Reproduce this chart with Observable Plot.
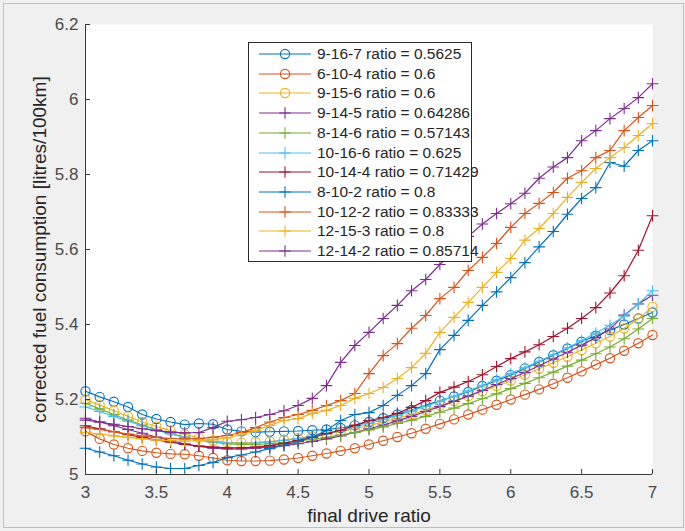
<!DOCTYPE html>
<html><head><meta charset="utf-8">
<script src="https://cdn.jsdelivr.net/npm/d3@7"></script>
<script src="https://cdn.jsdelivr.net/npm/@observablehq/plot@0.6"></script>
<style>
html,body{margin:0;padding:0;background:#f0f0f0;}
#wrap{position:relative;width:685px;height:531px;overflow:hidden;font-family:"Liberation Sans",Arial,Helvetica,sans-serif;background:#f0f0f0;}
#chart{position:absolute;left:0;top:0;}
#border{position:absolute;left:3px;top:3px;width:679px;height:523px;border:1px solid #9cc9e3;pointer-events:none;}
#legend{position:absolute;left:248px;top:42px;width:224px;height:220px;background:#fff;border:1px solid #2b2b2b;box-sizing:border-box;}
.lrow{position:absolute;left:0;height:18px;width:222px;}
.lrow svg{position:absolute;left:0;top:0;}
.lrow span{position:absolute;left:68px;top:0;line-height:18px;font-size:15.5px;color:#262626;white-space:nowrap;}
</style></head><body>
<div id="wrap"><div id="chart"></div><div id="legend"></div><div id="border"></div></div>
<script>
const xValues = [3.0,3.1,3.2,3.3,3.4,3.5,3.6,3.7,3.8,3.9,4.0,4.1,4.2,4.3,4.4,4.5,4.6,4.7,4.8,4.9,5.0,5.1,5.2,5.3,5.4,5.5,5.6,5.7,5.8,5.9,6.0,6.1,6.2,6.3,6.4,6.5,6.6,6.7,6.8,6.9,7.0];

const seriesNames = [
  "9-16-7 ratio = 0.5625",
  "6-10-4 ratio = 0.6",
  "9-15-6 ratio = 0.6",
  "9-14-5 ratio = 0.64286",
  "8-14-6 ratio = 0.57143",
  "10-16-6 ratio = 0.625",
  "10-14-4 ratio = 0.71429",
  "8-10-2 ratio = 0.8",
  "10-12-2 ratio = 0.83333",
  "12-15-3 ratio = 0.8",
  "12-14-2 ratio = 0.85714"
];

const s_9_16_7 = [5.222,5.207,5.194,5.180,5.160,5.148,5.140,5.133,5.136,5.134, 5.120,5.115,5.113,5.114,5.115,5.116,5.118,5.120,5.124,5.131, 5.140,5.150,5.160,5.172,5.185,5.197,5.208,5.220,5.236,5.250, 5.265,5.283,5.300,5.318,5.336,5.354,5.370,5.385,5.400,5.416, 5.432];
const s_6_10_4 = [5.115,5.095,5.080,5.070,5.063,5.058,5.055,5.054,5.050,5.044, 5.038,5.036,5.036,5.037,5.040,5.044,5.050,5.056,5.063,5.070, 5.080,5.090,5.100,5.110,5.122,5.135,5.147,5.160,5.173,5.186, 5.200,5.213,5.227,5.242,5.258,5.275,5.293,5.310,5.330,5.350, 5.372];
const s_9_15_6 = [5.200,5.185,5.170,5.155,5.140,5.128,5.117,5.107,5.098,5.090, 5.086,5.085,5.086,5.088,5.092,5.097,5.102,5.108,5.115,5.122, 5.130,5.140,5.150,5.160,5.172,5.184,5.196,5.209,5.222,5.236, 5.250,5.266,5.282,5.298,5.314,5.332,5.350,5.368,5.390,5.415, 5.447];
const s_9_14_5 = [5.150,5.140,5.130,5.120,5.110,5.100,5.090,5.082,5.075,5.070, 5.068,5.068,5.070,5.073,5.077,5.082,5.088,5.095,5.103,5.112, 5.122,5.132,5.143,5.155,5.168,5.181,5.195,5.209,5.224,5.240, 5.256,5.272,5.290,5.308,5.326,5.345,5.365,5.388,5.425,5.455, 5.478];
const s_8_14_6 = [5.190,5.175,5.160,5.145,5.132,5.120,5.110,5.100,5.092,5.086, 5.082,5.080,5.080,5.082,5.085,5.089,5.094,5.099,5.105,5.112, 5.119,5.127,5.136,5.145,5.155,5.166,5.177,5.189,5.202,5.215, 5.229,5.243,5.258,5.273,5.289,5.305,5.322,5.340,5.362,5.388, 5.416];
const s_10_16_6 = [5.180,5.168,5.155,5.142,5.130,5.118,5.108,5.099,5.092,5.087, 5.084,5.083,5.084,5.087,5.091,5.096,5.102,5.109,5.117,5.126, 5.136,5.146,5.157,5.169,5.182,5.195,5.209,5.223,5.238,5.253, 5.269,5.285,5.302,5.320,5.338,5.357,5.377,5.398,5.422,5.455, 5.490];
const s_10_14_4 = [5.130,5.122,5.114,5.106,5.099,5.092,5.086,5.080,5.076,5.073, 5.071,5.071,5.073,5.077,5.083,5.091,5.099,5.109,5.118,5.131, 5.144,5.152,5.163,5.179,5.197,5.219,5.233,5.248,5.266,5.288, 5.309,5.327,5.346,5.368,5.390,5.416,5.445,5.484,5.530,5.598, 5.690];
const s_8_10_2 = [5.070,5.060,5.050,5.038,5.028,5.020,5.016,5.016,5.024,5.032, 5.045,5.052,5.060,5.069,5.078,5.088,5.100,5.117,5.144,5.160, 5.165,5.184,5.211,5.237,5.269,5.333,5.371,5.411,5.451,5.487, 5.525,5.565,5.607,5.648,5.694,5.736,5.765,5.832,5.822,5.864, 5.890];
const s_10_12_2 = [5.125,5.120,5.114,5.108,5.103,5.099,5.096,5.095,5.096,5.099, 5.104,5.112,5.125,5.140,5.152,5.160,5.171,5.184,5.197,5.216, 5.269,5.317,5.349,5.390,5.424,5.469,5.499,5.544,5.579,5.616, 5.659,5.696,5.723,5.752,5.790,5.810,5.845,5.864,5.917,5.952, 5.984];
const s_12_15_3 = [5.112,5.108,5.103,5.099,5.095,5.092,5.090,5.089,5.090,5.093, 5.098,5.106,5.117,5.131,5.144,5.149,5.163,5.171,5.184,5.203, 5.216,5.232,5.256,5.285,5.323,5.379,5.419,5.459,5.499,5.539, 5.576,5.625,5.656,5.696,5.739,5.779,5.816,5.845,5.872,5.904, 5.936];
const s_12_14_2 = [5.145,5.140,5.134,5.128,5.122,5.117,5.113,5.111,5.112,5.125, 5.142,5.146,5.152,5.160,5.170,5.184,5.203,5.237,5.299,5.344, 5.379,5.416,5.451,5.490,5.520,5.560,5.598,5.635,5.668,5.696, 5.722,5.750,5.790,5.820,5.845,5.890,5.917,5.949,5.976,6.005, 6.042];

const seriesValues = [s_9_16_7, s_6_10_4, s_9_15_6, s_9_14_5, s_8_14_6, s_10_16_6, s_10_14_4, s_8_10_2, s_10_12_2, s_12_15_3, s_12_14_2];

const xTicks = [3, 3.5, 4, 4.5, 5, 5.5, 6, 6.5, 7];
const yTicks = [5, 5.2, 5.4, 5.6, 5.8, 6, 6.2];
const xLabel = "final drive ratio";
const yLabel = "corrected fuel consumption [litres/100km]";

// styles (kept separate from data)
const seriesColors = ["#0072BD","#D95319","#EDB120","#7E2F8E","#77AC30","#4DBEEE","#A2142F","#0072BD","#D95319","#EDB120","#7E2F8E"];
const seriesMarkers = ["circle","circle","circle","plus","plus","plus","plus","plus","plus","plus","plus"];

const plusSymbol = {
  draw(ctx, size) {
    const r = Math.sqrt(size / Math.PI);
    ctx.moveTo(-r, 0); ctx.lineTo(r, 0);
    ctx.moveTo(0, -r); ctx.lineTo(0, r);
  }
};

const W = 685, H = 531;
const mL = 85, mR = 33, mT = 24, mB = 57;
const plotW = W - mL - mR, plotH = H - mT - mB;
const fmt = d => String(+(+d).toFixed(1));

const marks = [
  Plot.frame({fill: "white", stroke: null})
];

seriesNames.forEach((name, i) => {
  const rows = seriesValues[i].map((v, j) => ({x: xValues[j], y: v, series: name}));
  marks.push(Plot.line(rows, {x: "x", y: "y", stroke: seriesColors[i], strokeWidth: 1.2}));
  if (seriesMarkers[i] === "circle") {
    marks.push(Plot.dot(rows, {x: "x", y: "y", r: 4.6, symbol: "circle", stroke: seriesColors[i], fill: "none", strokeWidth: 1.1}));
  } else {
    marks.push(Plot.dot(rows, {x: "x", y: "y", r: 5.8, symbol: plusSymbol, stroke: seriesColors[i], fill: "none", strokeWidth: 1.1}));
  }
});

marks.push(
  Plot.ruleX([3], {stroke: "#3a3a3a", strokeWidth: 1}),
  Plot.ruleY([5], {stroke: "#3a3a3a", strokeWidth: 1}),
  Plot.tickX(xTicks, {x: d => d, insetTop: plotH - 5, stroke: "#3a3a3a"}),
  Plot.tickY(yTicks, {y: d => d, insetRight: plotW - 5, stroke: "#3a3a3a"}),
  Plot.axisX(xTicks, {tickSize: 0, tickPadding: 11, tickFormat: fmt, fontSize: 17, color: "#4a4a4a", label: null}),
  Plot.axisY(yTicks, {tickSize: 0, tickPadding: 7, tickFormat: fmt, fontSize: 17, color: "#4a4a4a", label: null}),
  Plot.text([xLabel], {frameAnchor: "bottom", lineAnchor: "middle", textAnchor: "middle", dy: 41, fontSize: 19, fill: "#262626"}),
  Plot.text([yLabel], {frameAnchor: "left", lineAnchor: "middle", textAnchor: "middle", dx: -46, rotate: -90, fontSize: 19, fill: "#262626"})
);

const chart = Plot.plot({
  width: W, height: H,
  marginLeft: mL, marginRight: mR, marginTop: mT, marginBottom: mB,
  x: {domain: [3, 7], axis: null},
  y: {domain: [5, 6.2], axis: null},
  style: {fontFamily: "'Liberation Sans', Arial, Helvetica, sans-serif", background: "transparent", overflow: "visible"},
  marks
});
document.getElementById("chart").appendChild(chart);

// legend
const legend = document.getElementById("legend");
seriesNames.forEach((name, i) => {
  const row = document.createElement("div");
  row.className = "lrow";
  row.style.top = (2 + i * 19.7) + "px";
  const ns = "http://www.w3.org/2000/svg";
  const svg = document.createElementNS(ns, "svg");
  svg.setAttribute("width", 66); svg.setAttribute("height", 18);
  const line = document.createElementNS(ns, "line");
  line.setAttribute("x1", 10); line.setAttribute("x2", 62); line.setAttribute("y1", 9); line.setAttribute("y2", 9);
  line.setAttribute("stroke", seriesColors[i]); line.setAttribute("stroke-width", 1.2);
  svg.appendChild(line);
  const m = document.createElementNS(ns, "path");
  if (seriesMarkers[i] === "circle") {
    m.setAttribute("d", "M40.6,9A4.6,4.6,0,1,1,31.4,9A4.6,4.6,0,1,1,40.6,9Z");
  } else {
    m.setAttribute("d", "M30.2,9H41.8M36,3.2V14.8");
  }
  m.setAttribute("fill", "none"); m.setAttribute("stroke", seriesColors[i]); m.setAttribute("stroke-width", 1.1);
  svg.appendChild(m);
  row.appendChild(svg);
  const span = document.createElement("span");
  span.textContent = name;
  row.appendChild(span);
  legend.appendChild(row);
});
</script>
</body></html>
